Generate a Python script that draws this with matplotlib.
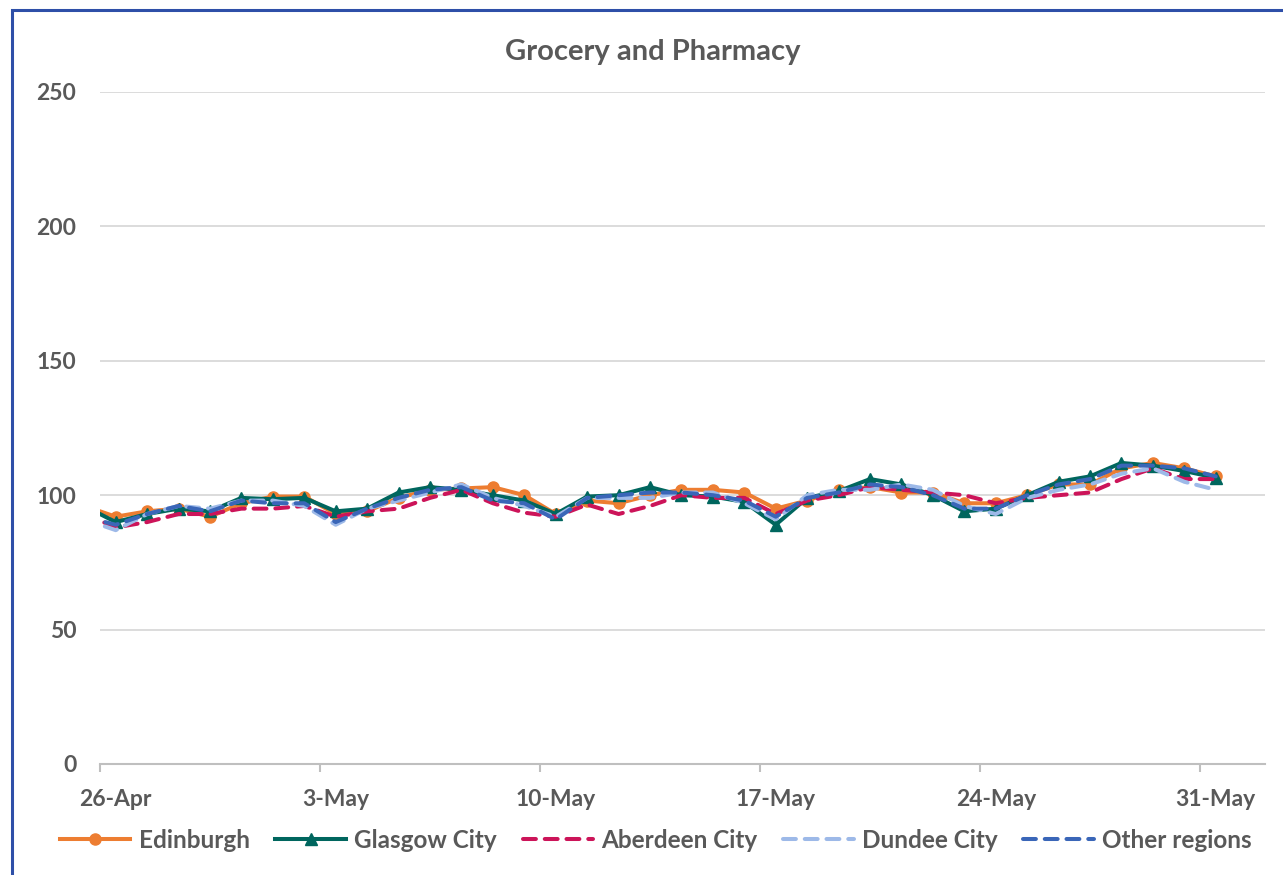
import matplotlib
matplotlib.use("Agg")
import matplotlib.pyplot as plt
from matplotlib.patches import Rectangle
import numpy as np

# Day index: -1 = 25-Apr (clipped at the axis start), 0 = 26-Apr ... 35 = 31-May
days = list(range(-1, 36))
tick_days = [0, 7, 14, 21, 28, 35]
tick_labels = ["26-Apr", "3-May", "10-May", "17-May", "24-May", "31-May"]

edinburgh = [96, 92, 94, 95, 92, 97, 99.5, 99.5, 93, 94, 99, 102, 102.5, 103, 100, 93,
             98, 97, 100, 102, 102, 101, 95, 98, 102, 103, 101, 101, 97, 97, 100, 104,
             104, 110, 112, 110, 107]
glasgow = [96, 90, 93, 95, 94, 99, 98.5, 99, 94, 95, 101, 103, 102, 100, 98, 93,
           99.5, 100, 103, 100, 99.5, 97.5, 89, 99, 101.5, 106, 104, 100, 94, 95, 100, 105,
           107, 112, 111, 109, 106.5]
aberdeen = [93, 88, 90, 93, 93, 95, 95, 96, 92, 94, 95, 99, 102, 97, 93.5, 92,
            96.5, 93, 96, 100, 99, 99, 93, 98, 100, 103, 102, 101, 100, 97, 99, 100,
            101, 106, 110, 106, 106]
dundee = [91, 87, 93, 96, 95, 98, 98, 96, 89, 95, 98, 101, 104, 99, 96, 92,
          99, 99, 99, 101, 101, 97, 91, 100, 102, 102, 104, 102, 96, 93, 99, 102,
          104, 108, 110, 105, 102]
other = [92, 89, 93, 96, 94, 98, 97, 97, 90, 95, 99, 102, 103, 98, 97, 91,
         99, 100, 101, 101, 100, 98, 92, 99, 101, 104, 103, 100, 95, 95, 100, 104,
         106, 111, 111, 110, 107]

W, H = 1283, 875
fig = plt.figure(figsize=(W / 100, H / 100), dpi=100)
ax = fig.add_axes([100 / W, 1 - 764 / H, (1265 - 100) / W, (764 - 92) / H])

FONT = "Lato"
GRAY = "#595959"
LW = 2.9
DASH = (0, (3.2, 2.2))

x = np.array(days) + 0.5
ax.plot(x, edinburgh, color="#ED7D31", lw=LW, marker="o", ms=8, label="Edinburgh", zorder=3)
ax.plot(x, glasgow, color="#00665E", lw=LW, marker="^", ms=8, label="Glasgow City", zorder=4)
ax.plot(x, aberdeen, color="#CC1459", lw=LW, ls=DASH, dash_capstyle="round",
        label="Aberdeen City", zorder=5)
ax.plot(x, dundee, color="#9DB9E8", lw=LW, ls=DASH, dash_capstyle="round",
        label="Dundee City", zorder=6)
ax.plot(x, other, color="#3A66B8", lw=LW, ls=DASH, dash_capstyle="round",
        label="Other regions", zorder=7)

ax.set_xlim(0, (1265 - 100) / 31.43)
ax.set_ylim(0, 250)
ax.set_yticks([0, 50, 100, 150, 200, 250])
ax.set_xticks(tick_days)
ax.set_xticklabels([""] * len(tick_days))
ax.set_xticks([d + 0.5 for d in tick_days], minor=True)
ax.set_xticklabels(tick_labels, minor=True)
ax.yaxis.grid(True, color="#d9d9d9", lw=1.3)
ax.set_axisbelow(True)
for s in ["top", "right", "left"]:
    ax.spines[s].set_visible(False)
ax.spines["bottom"].set_color("#bfbfbf")
ax.spines["bottom"].set_linewidth(1.5)
ax.tick_params(axis="y", length=0, pad=17)
ax.tick_params(axis="x", which="major", length=6, width=1.5, color="#bfbfbf", direction="out")
ax.tick_params(axis="x", which="minor", length=0, pad=18)
for lab in ax.get_xticklabels(minor=True) + ax.get_yticklabels():
    lab.set_fontfamily(FONT)
    lab.set_fontweight("bold")
    lab.set_fontsize(16.5)
    lab.set_color(GRAY)

fig.text(653 / W, 1 - 52 / H, "Grocery and Pharmacy", ha="center", va="center",
         fontfamily=FONT, fontweight="bold", fontsize=21, color=GRAY)

leg = fig.legend(loc="center", bbox_to_anchor=(656 / W, 1 - 840 / H), ncol=5, frameon=False,
                 prop={"family": FONT, "weight": "bold", "size": 17.5}, handlelength=2.9,
                 columnspacing=1.05, handletextpad=0.35)
for t in leg.get_texts():
    t.set_color(GRAY)

# chart border
fig.patches.append(Rectangle((12 / W, -0.05), 1.2, 1 - 10 / H + 0.05, transform=fig.transFigure,
                             fill=False, edgecolor="#2E4FA8", lw=2.2))

fig.savefig("out.png", dpi=100)
